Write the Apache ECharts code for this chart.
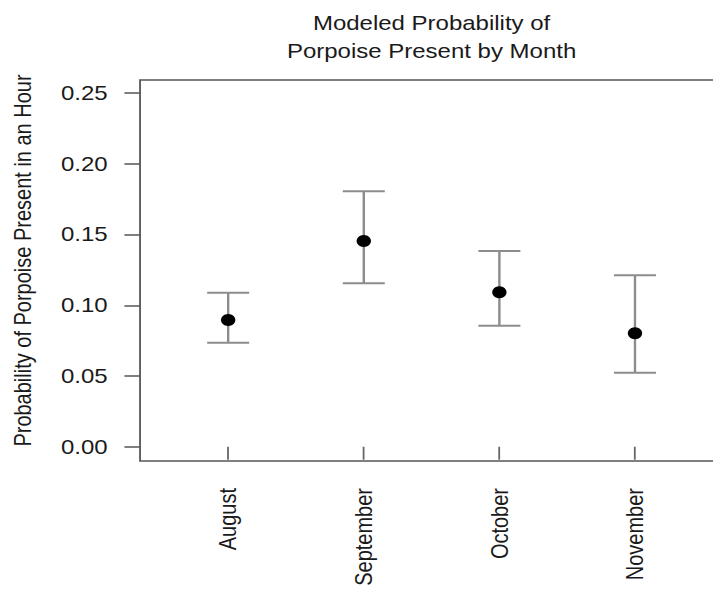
<!DOCTYPE html>
<html><head><meta charset="utf-8">
<script src="https://cdn.jsdelivr.net/npm/echarts@6/dist/echarts.min.js"></script>
<style>
html,body{margin:0;padding:0;overflow:hidden;background:#fff}
#wrap{width:713px;height:589px;overflow:hidden;position:relative}
#main{width:620px;height:589px;transform:scaleX(1.2);transform-origin:0 0}
</style>
</head><body><div id="wrap"><div id="main"></div></div>
<script>
const months = ['August', 'September', 'October', 'November'];
const estimate = [0.0896, 0.1455, 0.1092, 0.0802];
const lower = [0.0735, 0.1156, 0.0856, 0.0523];
const upper = [0.1089, 0.1806, 0.1384, 0.1212];
const yTicks = [0, 0.05, 0.10, 0.15, 0.20, 0.25];
const xTicks = [1, 2, 3, 4];
const titleText = 'Modeled Probability of\nPorpoise Present by Month';
const yTitle = 'Probability of Porpoise Present in an Hour';

const FONT = '"Liberation Sans", Arial, Helvetica, sans-serif';
const chart = echarts.init(document.getElementById('main'), null, {renderer: 'svg'});

const W = 620;
const gridLeft = 116.7, boxRight = 602.6, gridTop = 80, gridBottom = 128;
const plotCenter = (gridLeft + boxRight) / 2;

chart.setOption({
  animation: false,
  backgroundColor: '#fff',
  graphic: [{
    type: 'text', x: plotCenter, y: 9,
    style: {text: titleText, font: '20px ' + FONT, textAlign: 'center', lineHeight: 28, fill: '#1a1a1a'}
  }],
  grid: {left: gridLeft, right: W - boxRight, top: gridTop, bottom: gridBottom, show: true,
         borderColor: '#555', borderWidth: 1.5, containLabel: false, outerBoundsMode: 'none'},
  xAxis: {
    type: 'value', min: 0.35, max: 4.65,
    axisLine: {show: false}, splitLine: {show: false},
    axisTick: {show: true, customValues: xTicks, length: 13, lineStyle: {color: '#666', width: 1.5}},
    axisLabel: {show: true, customValues: xTicks, rotate: 90, margin: 27,
      formatter: v => months[Math.round(v) - 1] || '',
      fontFamily: FONT, fontSize: 20, color: '#1a1a1a'}
  },
  yAxis: {
    type: 'value', min: -0.0101, max: 0.2593,
    name: yTitle, nameLocation: 'middle', nameRotate: 90, nameGap: 88,
    nameTextStyle: {fontFamily: FONT, fontSize: 20, color: '#1a1a1a', padding: [0, 0, 0, 20]},
    axisLine: {show: false}, splitLine: {show: false},
    axisTick: {show: true, customValues: yTicks, length: 13, lineStyle: {color: '#555', width: 1.5}},
    axisLabel: {show: true, customValues: yTicks, margin: 27,
      formatter: v => v.toFixed(2),
      fontFamily: FONT, fontSize: 20, color: '#1a1a1a'}
  },
  series: [{
    type: 'custom',
    data: months.map((m, i) => [xTicks[i], lower[i], upper[i]]),
    z: 2,
    renderItem: function (params, api) {
      const x = api.value(0);
      const pLo = api.coord([x, api.value(1)]);
      const pHi = api.coord([x, api.value(2)]);
      const hw = 17.5;
      const st = {stroke: '#8c8c8c', lineWidth: 2};
      return {type: 'group', children: [
        {type: 'line', shape: {x1: pLo[0], y1: pLo[1], x2: pHi[0], y2: pHi[1]}, style: st},
        {type: 'line', shape: {x1: pLo[0] - hw, y1: pLo[1], x2: pLo[0] + hw, y2: pLo[1]}, style: st},
        {type: 'line', shape: {x1: pHi[0] - hw, y1: pHi[1], x2: pHi[0] + hw, y2: pHi[1]}, style: st}
      ]};
    }
  }, {
    type: 'scatter',
    data: months.map((m, i) => [xTicks[i], estimate[i]]),
    symbol: 'circle', symbolSize: 12, z: 3,
    itemStyle: {color: '#000', opacity: 1}
  }]
});
</script></body></html>
